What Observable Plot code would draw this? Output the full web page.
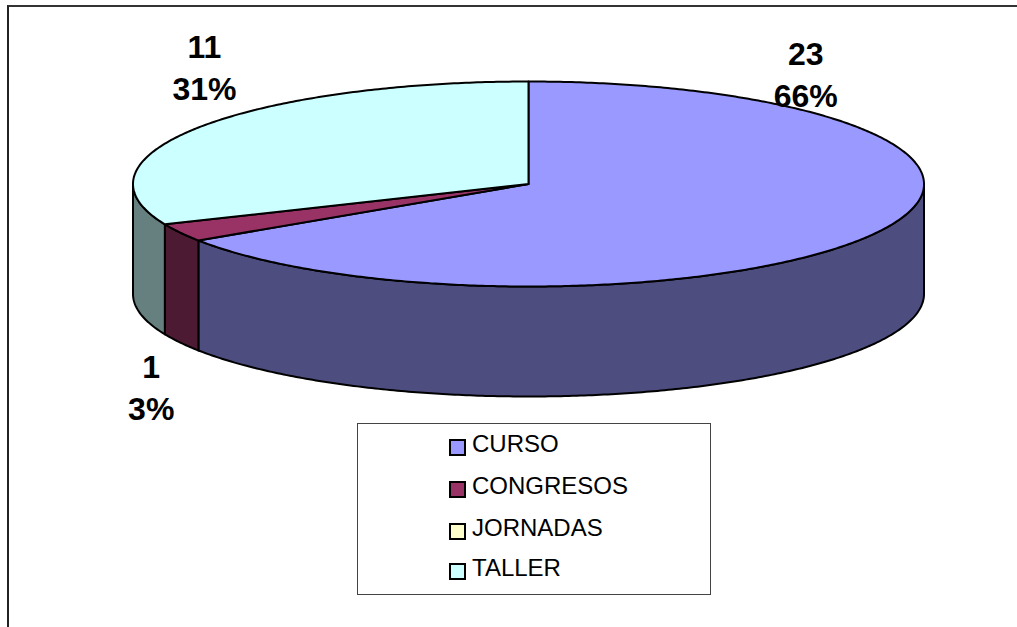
<!DOCTYPE html>
<html>
<head>
<meta charset="utf-8">
<script src="https://cdn.jsdelivr.net/npm/d3@7"></script>
<script src="https://cdn.jsdelivr.net/npm/@observablehq/plot@0.6"></script>
<style>
  html, body { margin: 0; padding: 0; background: #fff; }
  #chart { position: relative; width: 1017px; height: 627px; overflow: hidden; font-family: "Liberation Sans", Arial, sans-serif; }
  #chart svg { display: block; position: absolute; left: 0; top: 0; }
  #frame { position: absolute; left: 7px; top: 5px; right: -5px; bottom: -5px; border-left: 2px solid #222; border-top: 2px solid #333; }
  #legend { position: absolute; left: 357px; top: 423px; width: 352px; height: 170px; border: 1.5px solid #444; background: #fff; box-sizing: content-box; }
  .row { position: absolute; left: 91px; height: 24px; line-height: 24px; font-size: 24px; color: #000; white-space: nowrap; }
  .sw { position: absolute; left: 0; top: 5px; width: 13px; height: 13px; border: 2px solid #000; }
  .lb { position: absolute; left: 23px; top: -2px; }
</style>
</head>
<body>
<div id="chart"><div id="frame"></div></div>
<script>
const categories = ["CURSO", "CONGRESOS", "JORNADAS", "TALLER"];
const values = [23, 1, 0, 11];
const topColors = ["#9999FF", "#993366", "#FFFFCC", "#CCFFFF"];
const sideColors = ["#4D4D80", "#4D1A33", "#808066", "#668080"];

const total = d3.sum(values);
const TAU = 2 * Math.PI;
const depth = 1.073; // wall height, in units of the ellipse's vertical radius
const pct = d3.format(".0%");

// clockwise from twelve o'clock
let run = 0;
const slices = categories.map((name, i) => {
  const a0 = run / total * TAU;
  run += values[i];
  return {name, value: values[i], a0, a1: run / total * TAU, top: topColors[i], side: sideColors[i]};
});
const visible = slices.filter(d => d.value > 0);

const arc = (a0, a1) => {
  const n = Math.max(2, Math.ceil((a1 - a0) / 0.01));
  return d3.range(n + 1).map(k => a0 + (a1 - a0) * k / n);
};

// each wedge: centre, rim, back to centre
const topRings = visible.flatMap(s => {
  const centre = {s: s.name, fill: s.top, x: 0, y: 0};
  return [
    centre,
    ...arc(s.a0, s.a1).map(a => ({s: s.name, fill: s.top, x: Math.sin(a), y: Math.cos(a)})),
    centre
  ];
});

const wallPts = visible.flatMap(s => {
  const a0 = Math.max(s.a0, Math.PI / 2), a1 = Math.min(s.a1, 3 * Math.PI / 2);
  if (a1 <= a0) return [];
  const rim = arc(a0, a1);
  const ring = [
    ...rim.map(a => ({s: s.name, fill: s.side, x: Math.sin(a), y: Math.cos(a)})),
    ...rim.slice().reverse().map(a => ({s: s.name, fill: s.side, x: Math.sin(a), y: Math.cos(a) - depth}))
  ];
  return [...ring, ring[0]];
});

const mid = s => {
  const a = (s.a0 + s.a1) / 2;
  return {x: Math.sin(a), y: Math.cos(a), text: `${s.value}\n${pct(s.value / total)}`};
};
const labelNudge = {CURSO: [-71, -160], CONGRESOS: [-29, 153], TALLER: [6, -62]};

const labelMarks = visible.map(s => Plot.text([mid(s)], {
  x: "x", y: "y", text: "text",
  dx: labelNudge[s.name][0], dy: labelNudge[s.name][1],
  fontSize: 32, fontWeight: "bold", fill: "#000",
  fontFamily: "Liberation Sans, Arial, sans-serif",
  lineHeight: 1.3, textAnchor: "middle"
}));

const plot = Plot.plot({
  width: 1017, height: 627, margin: 0,
  x: {domain: [-1, 1], range: [132.5, 923.5], axis: null},
  y: {domain: [1, -1], range: [81, 286], axis: null},
  style: {background: "transparent"},
  marks: [
    Plot.line(wallPts, {x: "x", y: "y", z: "s", fill: "fill", stroke: "#000", strokeWidth: 2, curve: "linear", strokeLinejoin: "round"}),
    Plot.line(topRings, {x: "x", y: "y", z: "s", fill: "fill", stroke: "#000", strokeWidth: 2, curve: "linear", strokeLinejoin: "round"}),
    ...labelMarks
  ]
});
const chart = document.getElementById("chart");
chart.appendChild(plot);

const legend = document.createElement("div");
legend.id = "legend";
const rowTops = [10, 52, 94, 134];
categories.forEach((name, i) => {
  const row = document.createElement("div");
  row.className = "row";
  row.style.top = rowTops[i] + "px";
  const sw = document.createElement("span");
  sw.className = "sw";
  sw.style.background = topColors[i];
  const lb = document.createElement("span");
  lb.className = "lb";
  lb.textContent = name;
  row.append(sw, lb);
  legend.appendChild(row);
});
chart.appendChild(legend);
</script>
</body>
</html>
